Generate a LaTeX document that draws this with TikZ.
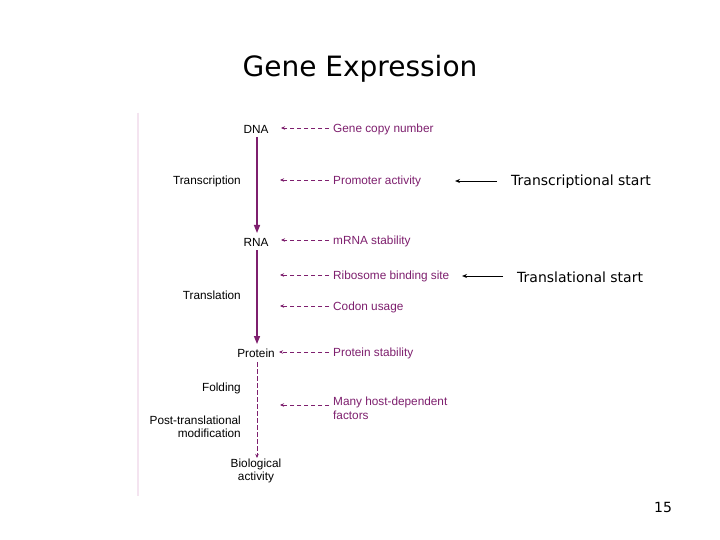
\documentclass[tikz,border=0pt]{standalone}
\usepackage{fontspec}
\setmainfont{DejaVu Sans}
\newfontfamily\arial{Liberation Sans}
\usetikzlibrary{arrows.meta}
\definecolor{pur}{HTML}{7E1F6E}
\definecolor{edge}{HTML}{F4E4F0}
\tikzset{
  lbl/.style={font=\arial\fontsize{11.8}{13.5}\selectfont, text=pur, anchor=west, inner sep=0pt, align=left},
  stage/.style={font=\arial\fontsize{11.8}{13.5}\selectfont, text=black, inner sep=0pt, align=center},
  proc/.style={font=\arial\fontsize{11.8}{13.5}\selectfont, text=black, anchor=east, inner sep=0pt, align=right},
  infl/.style={draw=pur, dash pattern=on 4.5pt off 2.5pt, line width=0.7pt, -{Stealth[length=4pt,width=3.5pt]}},
  mainarr/.style={draw=pur, line width=1.4pt, -{Triangle[length=8pt,width=6pt]}},
  blk/.style={draw=black, line width=0.9pt, -{Stealth[length=5pt,width=4pt]}},
  note/.style={font=\fontsize{14}{16}\selectfont, anchor=west, inner sep=0pt}
}
\begin{document}
\begin{tikzpicture}[x=1pt,y=-1pt]
\useasboundingbox (0,0) rectangle (720,540);
\fill[white] (0,0) rectangle (720,540);
\node[font=\fontsize{28}{32}\selectfont, inner sep=0pt] (title) at (360,69) {Gene Expression};
\draw[edge, line width=1.2pt] (138,113) -- (138,496);

% stages
\node[stage] (dna) at (256,129) {DNA};
\node[stage] (rna) at (256,242) {RNA};
\node[stage] (prot) at (256,353) {Protein};
\node[stage] (bio) at (256,471) {Biological\\activity};

% processes
\node[proc] (tsc) at (241,181) {Transcription};
\node[proc] (tsl) at (241,295) {Translation};
\node[proc] (fold) at (241,388) {Folding};
\node[proc] (ptm) at (241,427) {Post-translational\\modification};

% influences
\node[lbl] (gcn) at (333,129) {Gene copy number};
\node[lbl] (pa) at (333,181) {Promoter activity};
\node[lbl] (ms) at (333,241) {mRNA stability};
\node[lbl] (rbs) at (333,276) {Ribosome binding site};
\node[lbl] (cu) at (333,307) {Codon usage};
\node[lbl] (ps) at (333,353) {Protein stability};
\node[lbl, anchor=north west] (mh) at (333,397) {Many host-dependent\\factors};

\coordinate (t1) at (281,128);
\coordinate (t2) at (280,180);
\coordinate (t3) at (281,240);
\coordinate (t4) at (280,275);
\coordinate (t5) at (280,306);
\coordinate (t6) at (279,352);
\coordinate (t7) at (280,405);
\coordinate (m1) at (329,128);
\coordinate (m2) at (329,180);
\coordinate (m3) at (329,240);
\coordinate (m4) at (329,275);
\coordinate (m5) at (329,306);
\coordinate (m6) at (329,352);
\coordinate (m7) at (329,405);

\draw[infl] (m1) -- (t1);
\draw[infl] (m2) -- (t2);
\draw[infl] (m3) -- (t3);
\draw[infl] (m4) -- (t4);
\draw[infl] (m5) -- (t5);
\draw[infl] (m6) -- (t6);
\draw[infl] (m7) -- (t7);

% main flow
\coordinate (a1s) at (257,137);
\coordinate (a1e) at (257,233);
\coordinate (a2s) at (257,250);
\coordinate (a2e) at (257,344);
\coordinate (a3s) at (257,362);
\coordinate (a3e) at (257,458);
\draw[mainarr] (a1s) -- (a1e);
\draw[mainarr] (a2s) -- (a2e);
\draw[infl] (a3s) -- (a3e);

% annotations
\node[note] (ts) at (511,182) {Transcriptional start};
\node[note] (tl) at (517,277) {Translational start};
\coordinate (b1s) at (497,181);
\coordinate (b1e) at (455,181);
\coordinate (b2s) at (503,276);
\coordinate (b2e) at (462,276);
\draw[blk] (b1s) -- (b1e);
\draw[blk] (b2s) -- (b2e);

\node[font=\fontsize{14}{16}\selectfont, inner sep=0pt] (pg) at (663,507) {15};
\end{tikzpicture}
\end{document}
